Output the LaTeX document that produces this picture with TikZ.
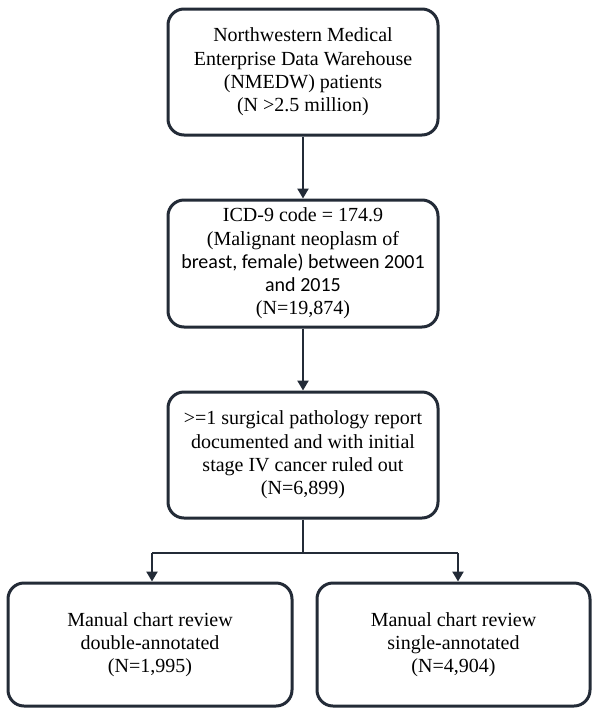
\documentclass[tikz,border=0pt]{standalone}
\usepackage{fontspec}
\setmainfont{Liberation Serif}
\newfontfamily\calfont{Carlito}
\usetikzlibrary{arrows.meta}
\definecolor{navy}{HTML}{232B37}
\begin{document}
\begin{tikzpicture}[x=1pt,y=1pt,
  box/.style={draw=navy,line width=3pt,rounded corners=16pt,align=center,
    inner sep=0pt,font=\fontsize{20}{23.3}\selectfont,text=black},
  conn/.style={draw=navy,line width=2.5pt,-{Triangle[length=10pt,width=11pt]}},
  plain/.style={draw=navy,line width=2.5pt}]
\useasboundingbox (0,0) rectangle (592,-713);
\fill[white] (0,0) rectangle (592,-713);
\node[box,minimum width=270pt,minimum height=126pt] (b1) at (303,-72)
  {Northwestern Medical\\Enterprise Data Warehouse\\(NMEDW) patients\\(N >2.5 million)};
\node[box,minimum width=270pt,minimum height=127pt] (b2) at (303,-263.5)
  {ICD-9 code = 174.9\\(Malignant neoplasm of\\{\calfont breast, female) between 2001}\\{\calfont and 2015}\\(N=19,874)};
\node[box,minimum width=270pt,minimum height=126pt] (b3) at (303,-455)
  {>=1 surgical pathology report\\documented and with initial\\stage IV cancer ruled out\\(N=6,899)};
\node[box,minimum width=284pt,minimum height=123pt] (b4) at (150,-644.5)
  {Manual chart review\\double-annotated\\(N=1,995)};
\node[box,minimum width=273pt,minimum height=123pt] (b5) at (453.5,-644.5)
  {Manual chart review\\single-annotated\\(N=4,904)};
\coordinate (j) at (303,-553);
\coordinate (jl) at (152,-553);
\coordinate (jr) at (458,-553);
\draw[conn] (b1.south) -- (b2.north);
\draw[conn] (b2.south) -- (b3.north);
\draw[plain] (b3.south) -- (j);
\draw[plain] (jl) -- (jr);
\draw[conn] (jl) -- (jl |- b4.north);
\draw[conn] (jr) -- (jr |- b5.north);
\end{tikzpicture}
\end{document}
